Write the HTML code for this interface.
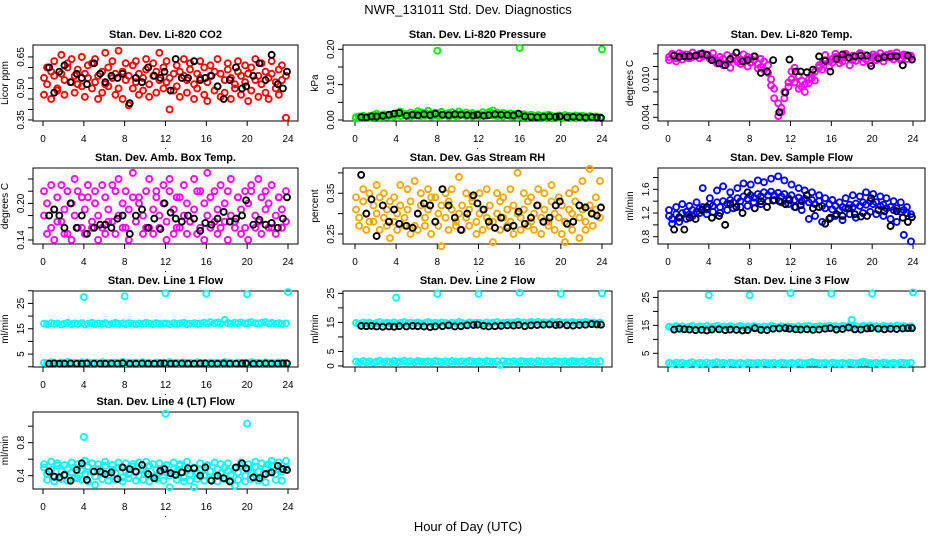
<!DOCTYPE html>
<html><head><meta charset="utf-8">
<style>
html,body{margin:0;padding:0;background:#fff;}
svg text{font-family:"Liberation Sans",Arial,sans-serif;}
</style></head>
<body>
<svg id="chart" width="936" height="540" viewBox="0 0 936 540" xmlns="http://www.w3.org/2000/svg">
<rect x="0" y="0" width="936" height="540" fill="#fff"/>
<text x="468" y="14" font-size="13" text-anchor="middle">NWR_131011  Std. Dev. Diagnostics</text>
<text x="468" y="531" font-size="13" text-anchor="middle">Hour of Day (UTC)</text>
</svg>
<script>
const cloudHours=[0.1,0.4,0.8,1.1,1.4,1.8,2.1,2.4,2.8,3.1,3.4,3.8,4.1,4.4,4.8,5.1,5.4,5.8,6.1,6.4,6.8,7.1,7.4,7.8,8.1,8.4,8.8,9.1,9.4,9.8,10.1,10.4,10.8,11.1,11.4,11.8,12.1,12.4,12.8,13.1,13.4,13.8,14.1,14.4,14.8,15.1,15.4,15.8,16.1,16.4,16.8,17.1,17.4,17.8,18.1,18.4,18.8,19.1,19.4,19.8,20.1,20.4,20.8,21.1,21.4,21.8,22.1,22.4,22.8,23.1,23.4,23.8];
const refHours=[0.6,1.1,1.6,2.1,2.7,3.3,3.8,4.3,5.0,5.6,6.1,6.7,7.3,7.8,8.5,9.1,9.7,10.3,10.9,11.5,11.9,12.5,13.0,13.6,14.2,14.8,15.4,15.9,16.5,17.1,17.7,18.3,18.9,19.5,19.9,20.6,21.2,21.8,22.4,23.0,23.5,23.9];
const xTicks=[0,4,8,12,16,20,24];

const co2A=[0.55,0.52,0.58,0.56,0.50,0.57,0.54,0.60,0.53,0.56,0.59,0.51,0.57,0.55,0.62,0.53,0.56,0.58,0.52,0.60,0.55,0.57,0.50,0.58,0.54,0.56,0.61,0.53,0.57,0.55,0.59,0.52,0.56,0.58,0.54,0.60,0.53,0.55,0.57,0.51,0.58,0.56,0.54,0.59,0.52,0.57,0.55,0.60,0.53,0.56,0.58,0.51,0.57,0.54,0.59,0.55,0.52,0.58,0.56,0.53,0.57,0.60,0.54,0.56,0.52,0.58,0.55,0.57,0.53,0.59,0.54,0.56];
const co2B=[0.47,0.60,0.45,0.63,0.49,0.66,0.47,0.62,0.64,0.48,0.52,0.65,0.46,0.61,0.50,0.64,0.45,0.48,0.67,0.51,0.63,0.47,0.68,0.45,0.62,0.42,0.50,0.63,0.47,0.49,0.64,0.46,0.62,0.48,0.67,0.50,0.63,0.40,0.49,0.61,0.46,0.64,0.48,0.62,0.45,0.50,0.63,0.47,0.44,0.61,0.49,0.64,0.46,0.48,0.62,0.45,0.50,0.63,0.47,0.61,0.44,0.49,0.64,0.46,0.62,0.48,0.45,0.63,0.50,0.47,0.61,0.36];
const co2Ref=[0.60,0.48,0.58,0.61,0.53,0.57,0.55,0.52,0.62,0.57,0.53,0.56,0.55,0.57,0.43,0.55,0.53,0.60,0.56,0.55,0.58,0.49,0.64,0.55,0.55,0.63,0.54,0.55,0.56,0.51,0.45,0.54,0.60,0.50,0.51,0.56,0.62,0.54,0.66,0.52,0.50,0.58];
const co2Yticks=[0.35,0.40,0.45,0.50,0.55,0.60,0.65];
const co2Ylabels=["0.35","0.50","0.65"];

const presA=[0.008,0.010,0.012,0.009,0.011,0.014,0.018,0.012,0.016,0.013,0.015,0.017,0.020,0.024,0.018,0.016,0.021,0.019,0.025,0.022,0.020,0.026,0.018,0.021,0.019,0.023,0.017,0.020,0.022,0.018,0.024,0.019,0.021,0.017,0.020,0.016,0.018,0.022,0.019,0.024,0.027,0.021,0.018,0.020,0.017,0.019,0.016,0.018,0.014,0.016,0.013,0.015,0.012,0.014,0.011,0.013,0.015,0.012,0.010,0.013,0.011,0.014,0.012,0.010,0.013,0.011,0.012,0.010,0.011,0.009,0.010,0.008];
const presB=[0.005,0.006,0.008,0.007,0.006,0.009,0.010,0.008,0.011,0.009,0.012,0.010,0.013,0.011,0.014,0.012,0.010,0.013,0.015,0.011,0.012,0.014,0.010,0.013,0.011,0.012,0.014,0.010,0.013,0.011,0.012,0.015,0.011,0.013,0.010,0.012,0.011,0.014,0.012,0.016,0.013,0.011,0.012,0.010,0.013,0.011,0.009,0.012,0.010,0.008,0.011,0.009,0.010,0.008,0.009,0.007,0.010,0.008,0.009,0.007,0.008,0.006,0.009,0.007,0.008,0.006,0.007,0.005,0.006,0.007,0.005,0.006];
const presRef=[0.008,0.007,0.010,0.010,0.012,0.015,0.018,0.020,0.012,0.015,0.013,0.016,0.014,0.018,0.015,0.014,0.016,0.015,0.014,0.013,0.015,0.012,0.014,0.016,0.015,0.014,0.013,0.018,0.010,0.009,0.008,0.009,0.010,0.009,0.010,0.008,0.009,0.008,0.007,0.008,0.007,0.006];
const presOutHours=[8,16,24];
const presOutValues=[0.196,0.204,0.200];
const presYticks=[0,0.05,0.10,0.15,0.20];
const presYlabels=["0.00","0.10","0.20"];

const tempA=[0.0135,0.0138,0.0133,0.0136,0.0139,0.0134,0.0137,0.0135,0.0138,0.0140,0.0136,0.0139,0.0135,0.0133,0.0130,0.0128,0.0132,0.0125,0.0130,0.0134,0.0127,0.0131,0.0129,0.0135,0.0126,0.0130,0.0124,0.0119,0.0128,0.0122,0.0100,0.0085,0.0062,0.0048,0.0080,0.0095,0.0112,0.0118,0.0105,0.0098,0.0092,0.0100,0.0108,0.0112,0.0118,0.0125,0.0130,0.0128,0.0132,0.0135,0.0131,0.0134,0.0137,0.0133,0.0130,0.0135,0.0138,0.0134,0.0131,0.0136,0.0134,0.0137,0.0133,0.0136,0.0138,0.0134,0.0137,0.0135,0.0133,0.0136,0.0138,0.0135];
const tempB=[0.0130,0.0140,0.0128,0.0141,0.0131,0.0139,0.0133,0.0142,0.0137,0.0133,0.0141,0.0138,0.0132,0.0141,0.0125,0.0135,0.0122,0.0138,0.0118,0.0136,0.0131,0.0124,0.0139,0.0120,0.0133,0.0136,0.0117,0.0132,0.0115,0.0110,0.0090,0.0070,0.0042,0.0055,0.0070,0.0088,0.0100,0.0095,0.0085,0.0088,0.0080,0.0094,0.0102,0.0098,0.0122,0.0115,0.0138,0.0120,0.0126,0.0140,0.0125,0.0128,0.0140,0.0122,0.0137,0.0129,0.0141,0.0127,0.0138,0.0125,0.0139,0.0130,0.0141,0.0128,0.0134,0.0140,0.0131,0.0142,0.0130,0.0139,0.0132,0.0137];
const tempRef=[0.0137,0.0135,0.0136,0.0136,0.0137,0.0140,0.0138,0.0130,0.0125,0.0122,0.0132,0.0142,0.0128,0.0130,0.0136,0.0110,0.0112,0.0130,0.0048,0.0079,0.0131,0.0112,0.0112,0.0111,0.0115,0.0136,0.0129,0.0112,0.0132,0.0139,0.0134,0.0136,0.0137,0.0137,0.0121,0.0133,0.0135,0.0136,0.0136,0.0122,0.0137,0.0131];
const tempYticks=[0.004,0.006,0.008,0.010,0.012,0.014];
const tempYlabels=["0.004","0.010"];

const ambA=[0.18,0.20,0.16,0.19,0.21,0.17,0.19,0.15,0.20,0.18,0.22,0.16,0.19,0.21,0.17,0.20,0.18,0.16,0.21,0.19,0.17,0.22,0.18,0.20,0.16,0.19,0.21,0.17,0.20,0.18,0.22,0.16,0.19,0.21,0.18,0.20,0.17,0.22,0.19,0.16,0.21,0.18,0.20,0.17,0.19,0.22,0.16,0.20,0.18,0.21,0.17,0.19,0.16,0.20,0.22,0.18,0.17,0.21,0.19,0.16,0.20,0.22,0.18,0.17,0.21,0.19,0.20,0.16,0.18,0.21,0.19,0.17];
const ambB=[0.22,0.15,0.23,0.14,0.17,0.23,0.15,0.22,0.14,0.24,0.16,0.21,0.15,0.23,0.16,0.22,0.14,0.23,0.15,0.17,0.23,0.15,0.24,0.16,0.22,0.14,0.25,0.17,0.21,0.15,0.16,0.24,0.15,0.22,0.16,0.23,0.14,0.24,0.15,0.21,0.16,0.23,0.15,0.17,0.24,0.15,0.22,0.14,0.25,0.16,0.22,0.15,0.23,0.17,0.14,0.24,0.16,0.21,0.15,0.22,0.14,0.23,0.16,0.24,0.15,0.22,0.16,0.23,0.15,0.21,0.16,0.22];
const ambRef=[0.18,0.19,0.18,0.16,0.20,0.16,0.18,0.15,0.16,0.165,0.165,0.16,0.175,0.18,0.15,0.18,0.19,0.16,0.175,0.158,0.20,0.185,0.175,0.17,0.18,0.175,0.155,0.168,0.165,0.175,0.186,0.17,0.175,0.18,0.205,0.165,0.173,0.165,0.168,0.16,0.175,0.21];
const ambYticks=[0.14,0.16,0.18,0.20,0.22,0.24];
const ambYlabels=["0.14","0.20"];

const rhA=[0.31,0.29,0.33,0.30,0.28,0.32,0.30,0.34,0.29,0.31,0.33,0.28,0.30,0.32,0.29,0.31,0.33,0.27,0.30,0.32,0.29,0.31,0.34,0.28,0.30,0.32,0.29,0.33,0.31,0.28,0.30,0.32,0.29,0.31,0.33,0.28,0.30,0.31,0.29,0.32,0.28,0.30,0.33,0.29,0.31,0.28,0.32,0.30,0.29,0.31,0.33,0.28,0.30,0.32,0.29,0.31,0.28,0.33,0.30,0.29,0.32,0.28,0.31,0.30,0.33,0.29,0.31,0.28,0.32,0.30,0.31,0.29];
const rhB=[0.34,0.27,0.36,0.26,0.35,0.28,0.37,0.26,0.35,0.27,0.24,0.34,0.26,0.37,0.27,0.36,0.25,0.38,0.26,0.35,0.27,0.36,0.25,0.34,0.27,0.22,0.35,0.26,0.36,0.27,0.39,0.26,0.35,0.27,0.34,0.25,0.35,0.26,0.36,0.27,0.23,0.35,0.26,0.34,0.27,0.36,0.25,0.40,0.26,0.35,0.27,0.34,0.26,0.36,0.25,0.35,0.27,0.37,0.26,0.34,0.25,0.23,0.35,0.26,0.36,0.24,0.38,0.26,0.41,0.27,0.34,0.38];
const rhRef=[0.395,0.30,0.335,0.245,0.32,0.28,0.31,0.275,0.27,0.265,0.30,0.325,0.32,0.28,0.36,0.32,0.29,0.26,0.30,0.345,0.325,0.31,0.28,0.265,0.29,0.265,0.27,0.305,0.275,0.29,0.32,0.28,0.29,0.32,0.33,0.275,0.28,0.32,0.315,0.30,0.295,0.315];
const rhYticks=[0.25,0.30,0.35,0.40];
const rhYlabels=["0.25","0.35"];

const flowA=[1.15,1.10,1.18,1.12,1.20,1.22,1.18,1.25,1.22,1.28,1.30,1.26,1.35,1.32,1.38,1.30,1.40,1.36,1.42,1.38,1.45,1.40,1.48,1.44,1.50,1.46,1.52,1.48,1.55,1.50,1.56,1.50,1.54,1.48,1.52,1.45,1.50,1.42,1.46,1.40,1.44,1.38,1.42,1.35,1.40,1.32,1.28,1.35,1.26,1.32,1.25,1.30,1.28,1.34,1.30,1.36,1.32,1.38,1.34,1.40,1.35,1.38,1.32,1.34,1.28,1.30,1.25,1.28,1.22,1.25,1.20,1.18];
const flowB=[1.25,1.02,1.30,1.05,1.35,1.10,1.32,1.15,1.38,1.20,1.62,1.18,1.45,1.22,1.58,1.20,1.65,1.25,1.55,1.28,1.62,1.30,1.70,1.32,1.68,1.38,1.75,1.35,1.72,1.40,1.78,1.42,1.82,1.38,1.75,1.35,1.68,1.30,1.62,1.25,1.58,1.10,1.55,1.15,1.50,1.05,1.45,1.10,1.42,1.15,1.38,1.08,1.45,1.18,1.50,1.12,1.48,1.20,1.55,1.22,1.52,1.18,1.48,1.15,1.45,1.10,1.40,1.05,1.38,0.83,1.30,0.72];
const flowRef=[0.92,1.13,0.92,1.12,1.10,1.25,1.30,1.12,1.15,1.00,1.35,1.30,1.20,1.55,1.28,1.40,1.30,1.41,1.40,1.35,1.42,1.30,1.33,1.50,1.28,1.30,1.02,1.12,1.18,1.15,1.28,1.18,1.14,1.15,1.45,1.25,1.23,0.98,1.23,1.12,1.05,1.13];
const flowYticks=[0.8,1.0,1.2,1.4,1.6,1.8];
const flowYlabels=["0.8","1.2","1.6"];

const l1A=[17.0,16.8,17.2,16.9,17.1,16.7,17.0,17.3,16.8,17.1,16.9,17.2,16.6,17.0,17.3,16.8,17.1,16.9,17.2,16.7,17.0,17.3,16.9,17.1,16.8,17.2,17.0,16.7,17.1,16.9,17.3,17.0,16.8,17.2,16.9,17.1,17.0,16.8,17.2,16.9,17.1,17.3,16.8,17.0,17.2,16.9,17.1,17.4,17.0,17.6,17.2,17.5,17.1,18.5,17.3,17.0,17.4,17.2,17.5,17.1,17.3,17.6,17.2,17.0,17.4,17.6,17.1,17.3,17.0,17.2,16.9,17.1];
const l1B=[1.6,1.4,1.8,1.5,1.3,1.7,1.5,1.9,1.4,1.6,1.5,1.8,1.4,1.7,1.5,1.6,1.3,1.8,1.5,1.6,1.4,1.7,1.5,1.9,1.4,1.6,1.5,1.7,1.4,1.8,1.5,1.6,1.3,1.7,1.5,1.6,1.4,1.8,1.5,1.6,1.4,1.7,1.5,1.6,1.3,1.8,1.5,1.6,1.4,1.7,1.5,1.6,1.4,1.8,1.5,1.6,1.3,1.7,1.5,1.6,1.4,1.8,1.5,1.6,1.4,1.7,1.5,1.6,1.4,1.7,1.5,1.6];
const l1Ref=[1.2,1.3,1.2,1.2,1.3,1.2,1.2,1.3,1.2,1.2,1.2,1.3,1.2,1.4,1.2,1.2,1.3,1.2,1.2,1.3,1.3,1.2,1.2,1.3,1.2,1.2,1.3,1.3,1.2,1.2,1.3,1.2,1.2,1.3,1.3,1.2,1.2,1.3,1.2,1.2,1.3,1.3];
const l1OutHours=[4,8,12,16,20,24];
const l1OutValues=[27.5,27.8,29.0,28.8,28.6,29.5];
const l1Yticks=[0,5,10,15,20,25,30];
const l1Ylabels=["5","15","25"];

const l2A=[14.8,14.6,15.0,14.7,14.9,14.5,14.8,15.1,14.6,14.9,14.7,15.0,14.5,14.8,15.1,14.6,14.9,14.7,15.0,14.6,14.8,15.1,14.7,14.9,14.6,15.0,14.8,14.5,14.9,14.7,15.1,14.8,14.6,15.0,14.7,14.9,14.8,14.6,15.0,14.7,14.9,15.1,14.6,14.8,15.0,14.7,14.9,15.2,14.8,15.0,14.7,15.1,14.9,15.2,14.8,15.0,14.7,15.1,14.9,15.2,14.8,15.0,14.7,15.1,14.9,15.0,14.8,15.2,14.9,15.0,14.7,14.9];
const l2B=[1.5,1.3,1.7,1.4,1.6,1.2,1.5,1.8,1.3,1.6,1.4,1.7,1.3,1.5,1.8,1.4,1.6,1.3,1.7,1.5,1.4,1.6,1.3,1.7,1.5,1.4,1.6,1.3,1.7,1.5,1.4,1.6,1.3,1.7,1.5,1.4,1.6,1.3,1.7,1.5,1.4,1.6,0.4,1.7,1.5,1.4,1.6,1.3,1.7,1.5,1.4,1.6,1.3,1.7,1.5,1.4,1.6,1.3,1.7,1.5,1.4,1.6,1.3,1.7,1.5,1.4,1.6,1.3,1.7,1.5,1.4,1.6];
const l2Ref=[13.8,13.7,13.8,13.6,13.5,13.6,13.5,13.7,13.6,13.8,13.7,13.6,13.4,13.6,13.7,14.0,13.6,13.7,14.0,14.1,14.2,13.8,13.6,13.7,13.8,14.0,13.9,14.1,13.7,14.0,14.1,14.2,14.3,14.1,14.2,14.0,13.9,14.1,14.2,14.4,14.3,14.2];
const l2OutHours=[4,8,12,16,20,24];
const l2OutValues=[23.5,24.8,24.8,25.2,24.8,25.0];
const l2Yticks=[0,5,10,15,20,25];
const l2Ylabels=["0","5","15","25"];

const l3A=[14.5,14.3,14.7,14.4,14.6,14.2,14.5,14.8,14.3,14.6,14.4,14.7,14.2,14.5,14.8,14.3,14.6,14.4,14.7,14.3,14.5,14.8,14.4,14.6,14.3,14.7,14.5,14.2,14.6,14.4,14.8,14.5,14.3,14.7,14.4,14.6,14.5,14.3,14.7,14.4,14.6,14.8,14.3,14.5,14.7,14.4,14.6,14.9,14.5,14.7,14.4,14.8,14.6,14.9,14.5,14.7,14.4,14.8,14.6,14.9,14.5,14.7,14.4,14.8,14.6,14.7,14.5,14.9,14.6,14.7,14.4,14.6];
const l3B=[1.5,1.3,1.7,1.4,1.6,1.2,1.5,1.8,1.3,1.6,1.4,1.7,1.3,1.5,1.8,1.4,1.6,1.3,1.7,1.5,1.4,1.6,1.3,1.7,1.5,1.4,1.6,1.3,1.7,1.5,1.4,1.6,1.3,1.7,1.5,1.4,1.6,1.3,1.7,1.5,1.4,1.6,1.9,1.7,1.5,1.4,1.6,1.3,1.7,1.5,1.4,1.6,1.3,1.7,1.5,1.4,1.6,2.0,1.7,1.5,1.4,1.6,1.3,1.7,1.5,1.4,1.6,1.3,1.7,1.5,1.4,1.6];
const l3Ref=[13.5,13.8,13.6,13.5,13.3,13.4,13.2,13.5,13.6,13.3,13.5,13.4,13.2,13.3,14.0,13.4,13.3,13.8,13.9,14.0,13.8,13.6,13.5,13.6,13.4,13.5,13.8,14.0,13.5,13.7,14.2,13.6,13.5,13.9,14.0,13.8,13.6,13.8,13.7,13.9,14.0,14.0];
const l3OutHours=[4,8,12,16,18,20,24];
const l3OutValues=[25.8,25.8,26.5,26.3,17.0,26.3,26.8];
const l3Yticks=[5,10,15,20,25];
const l3Ylabels=["5","15","25"];

const l4A=[0.50,0.42,0.47,0.38,0.52,0.45,0.40,0.48,0.44,0.50,0.37,0.46,0.42,0.51,0.45,0.39,0.48,0.44,0.52,0.40,0.47,0.43,0.50,0.38,0.46,0.42,0.51,0.44,0.40,0.48,0.45,0.52,0.39,0.47,0.43,0.50,0.44,0.40,0.48,0.45,0.52,0.38,0.46,0.42,0.50,0.44,0.47,0.40,0.52,0.45,0.39,0.48,0.43,0.50,0.46,0.41,0.49,0.44,0.52,0.40,0.47,0.43,0.51,0.45,0.38,0.48,0.44,0.52,0.42,0.47,0.45,0.50];
const l4B=[0.54,0.35,0.57,0.33,0.55,0.36,0.53,0.34,0.56,0.37,0.54,0.35,0.58,0.33,0.55,0.29,0.54,0.36,0.57,0.34,0.53,0.35,0.56,0.33,0.55,0.37,0.54,0.34,0.56,0.35,0.57,0.33,0.54,0.36,0.55,0.34,0.53,0.26,0.56,0.35,0.54,0.33,0.57,0.34,0.26,0.36,0.55,0.34,0.53,0.35,0.56,0.33,0.54,0.36,0.55,0.34,0.28,0.35,0.56,0.33,0.54,0.36,0.57,0.34,0.55,0.32,0.54,0.58,0.35,0.56,0.34,0.58];
const l4Ref=[0.45,0.39,0.38,0.41,0.34,0.47,0.55,0.35,0.45,0.45,0.42,0.44,0.36,0.50,0.48,0.45,0.53,0.42,0.37,0.46,0.48,0.43,0.41,0.44,0.49,0.49,0.40,0.50,0.34,0.40,0.37,0.33,0.50,0.55,0.49,0.38,0.37,0.42,0.44,0.52,0.48,0.47];
const l4OutHours=[4,12,20];
const l4OutValues=[0.87,1.15,1.03];
const l4Yticks=[0.4,0.6,0.8,1.0];
const l4Ylabels=["0.4","0.8"];

// Layout (pixel geometry, not data)
const COLS=[{bl:33,br:298,x0:43,x24:288},{bl:343,br:612,x0:355,x24:602},{bl:658,br:925,x0:668,x24:913}];
const ROWS=[{bt:45,bb:121},{bt:168,bb:244},{bt:291,bb:367},{bt:412,bb:489}];
const NS="http://www.w3.org/2000/svg";
const svg=document.getElementById('chart');
function mk(tag,attrs,parent){const e=document.createElementNS(NS,tag);for(const k in attrs)e.setAttribute(k,attrs[k]);(parent||svg).appendChild(e);return e;}

function panel(cfg){
  const c=COLS[cfg.col], r=ROWS[cfg.row];
  const g=mk('g',{});
  
  
  const xs=h=>c.x0+(h/24)*(c.x24-c.x0);
  const ys=v=>r.bt+(cfg.yTop-v)/(cfg.yTop-cfg.yBot)*(r.bb-r.bt);
  const t=mk('text',{x:(c.bl+c.br)/2,y:r.bt-7,'font-size':11,'font-weight':'bold','text-anchor':'middle'},g);
  t.textContent=cfg.title;
  
  
  const yl=mk('text',{transform:`translate(${c.bl-25},${(r.bt+r.bb)/2}) rotate(-90)`,'font-size':10,'text-anchor':'middle'},g);
  yl.textContent=cfg.ylab;
  
  
  const yt=cfg.yticks;
  mk('line',{x1:c.bl,x2:c.bl,y1:ys(yt[0]),y2:ys(yt[yt.length-1]),stroke:'#000','stroke-width':1},g);
  yt.forEach(v=>{mk('line',{x1:c.bl-5,x2:c.bl,y1:ys(v),y2:ys(v),stroke:'#000','stroke-width':1},g);});
  cfg.ylabels.forEach(s=>{
    const v=parseFloat(s);
    const tl=mk('text',{transform:`translate(${c.bl-9},${ys(v)}) rotate(-90)`,'font-size':10,'text-anchor':'middle'},g);
    tl.textContent=s;
    
    
  });
  mk('line',{x1:xs(0),x2:xs(24),y1:r.bb,y2:r.bb,stroke:'#000','stroke-width':1},g);
  xTicks.forEach(h=>{
    mk('line',{x1:xs(h),x2:xs(h),y1:r.bb,y2:r.bb+5,stroke:'#000','stroke-width':1},g);
    if(cfg.xlabels){
      const tl=mk('text',{x:xs(h),y:r.bb+21,'font-size':10,'text-anchor':'middle'},g);
      tl.textContent=String(h);
      
      
    }
  });
  if(cfg.xlabels) mk('rect',{x:(c.bl+c.br)/2-0.5,y:r.bb+27,width:1,height:1,fill:'#000'},g);
  mk('rect',{x:c.bl,y:r.bt,width:c.br-c.bl,height:r.bb-r.bt,fill:'none',stroke:'#000','stroke-width':1},g);
  const clip=mk('g',{},g);
  const draw=(hours,vals,color,nm)=>{
    const n=Math.min(hours.length,vals.length);
    for(let i=0;i<n;i++){
      const p=mk('circle',{cx:xs(hours[i]),cy:ys(vals[i]),r:3,fill:'none',stroke:color,'stroke-width':1.9},clip);
      
      
    }
  };
  cfg.clouds.forEach(a=>draw(cloudHours,a,cfg.color,'cloud-point'));
  if(cfg.outH) draw(cfg.outH,cfg.outV,cfg.color,'outlier-point');
  draw(refHours,cfg.ref,'#000','reference-point');
}

panel({name:'panel-co2',col:0,row:0,title:'Stan. Dev. Li-820 CO2',ylab:'Licor ppm',yTop:0.707,yBot:0.345,yticks:co2Yticks,ylabels:co2Ylabels,clouds:[co2B,co2A],ref:co2Ref,color:'#ff0000',xlabels:true});
panel({name:'panel-pressure',col:1,row:0,title:'Stan. Dev. Li-820 Pressure',ylab:'kPa',yTop:0.2122,yBot:-0.0028,yticks:presYticks,ylabels:presYlabels,clouds:[presA,presB],ref:presRef,outH:presOutHours,outV:presOutValues,color:'#00ee00',xlabels:true});
panel({name:'panel-temp',col:2,row:0,title:'Stan. Dev. Li-820 Temp.',ylab:'degrees C',yTop:0.01539,yBot:0.00342,yticks:tempYticks,ylabels:tempYlabels,clouds:[tempB,tempA],ref:tempRef,color:'#ff00ff',xlabels:true});
panel({name:'panel-amb-box-temp',col:0,row:1,title:'Stan. Dev. Amb. Box Temp.',ylab:'degrees C',yTop:0.258,yBot:0.1334,yticks:ambYticks,ylabels:ambYlabels,clouds:[ambB,ambA],ref:ambRef,color:'#ff00ff',xlabels:true});
panel({name:'panel-gas-rh',col:1,row:1,title:'Stan. Dev. Gas Stream RH',ylab:'percent',yTop:0.412,yBot:0.2254,yticks:rhYticks,ylabels:rhYlabels,clouds:[rhB,rhA],ref:rhRef,color:'#f4a800',xlabels:true});
panel({name:'panel-sample-flow',col:2,row:1,title:'Stan. Dev. Sample Flow',ylab:'ml/min',yTop:1.96,yBot:0.677,yticks:flowYticks,ylabels:flowYlabels,clouds:[flowB,flowA],ref:flowRef,color:'#0000ff',xlabels:true});
panel({name:'panel-line1',col:0,row:2,title:'Stan. Dev. Line 1 Flow',ylab:'ml/min',yTop:29.9,yBot:-0.1,yticks:l1Yticks,ylabels:l1Ylabels,clouds:[l1A,l1B],ref:l1Ref,outH:l1OutHours,outV:l1OutValues,color:'#00ffff',xlabels:true});
panel({name:'panel-line2',col:1,row:2,title:'Stan. Dev. Line 2 Flow',ylab:'ml/min',yTop:25.8,yBot:-0.35,yticks:l2Yticks,ylabels:l2Ylabels,clouds:[l2A,l2B],ref:l2Ref,outH:l2OutHours,outV:l2OutValues,color:'#00ffff',xlabels:false});
panel({name:'panel-line3',col:2,row:2,title:'Stan. Dev. Line 3 Flow',ylab:'ml/min',yTop:27.3,yBot:0.1,yticks:l3Yticks,ylabels:l3Ylabels,clouds:[l3A,l3B],ref:l3Ref,outH:l3OutHours,outV:l3OutValues,color:'#00ffff',xlabels:false});
panel({name:'panel-line4',col:0,row:3,title:'Stan. Dev. Line 4 (LT) Flow',ylab:'ml/min',yTop:1.172,yBot:0.239,yticks:l4Yticks,ylabels:l4Ylabels,clouds:[l4A,l4B],ref:l4Ref,outH:l4OutHours,outV:l4OutValues,color:'#00ffff',xlabels:true});
</script>
</body></html>
